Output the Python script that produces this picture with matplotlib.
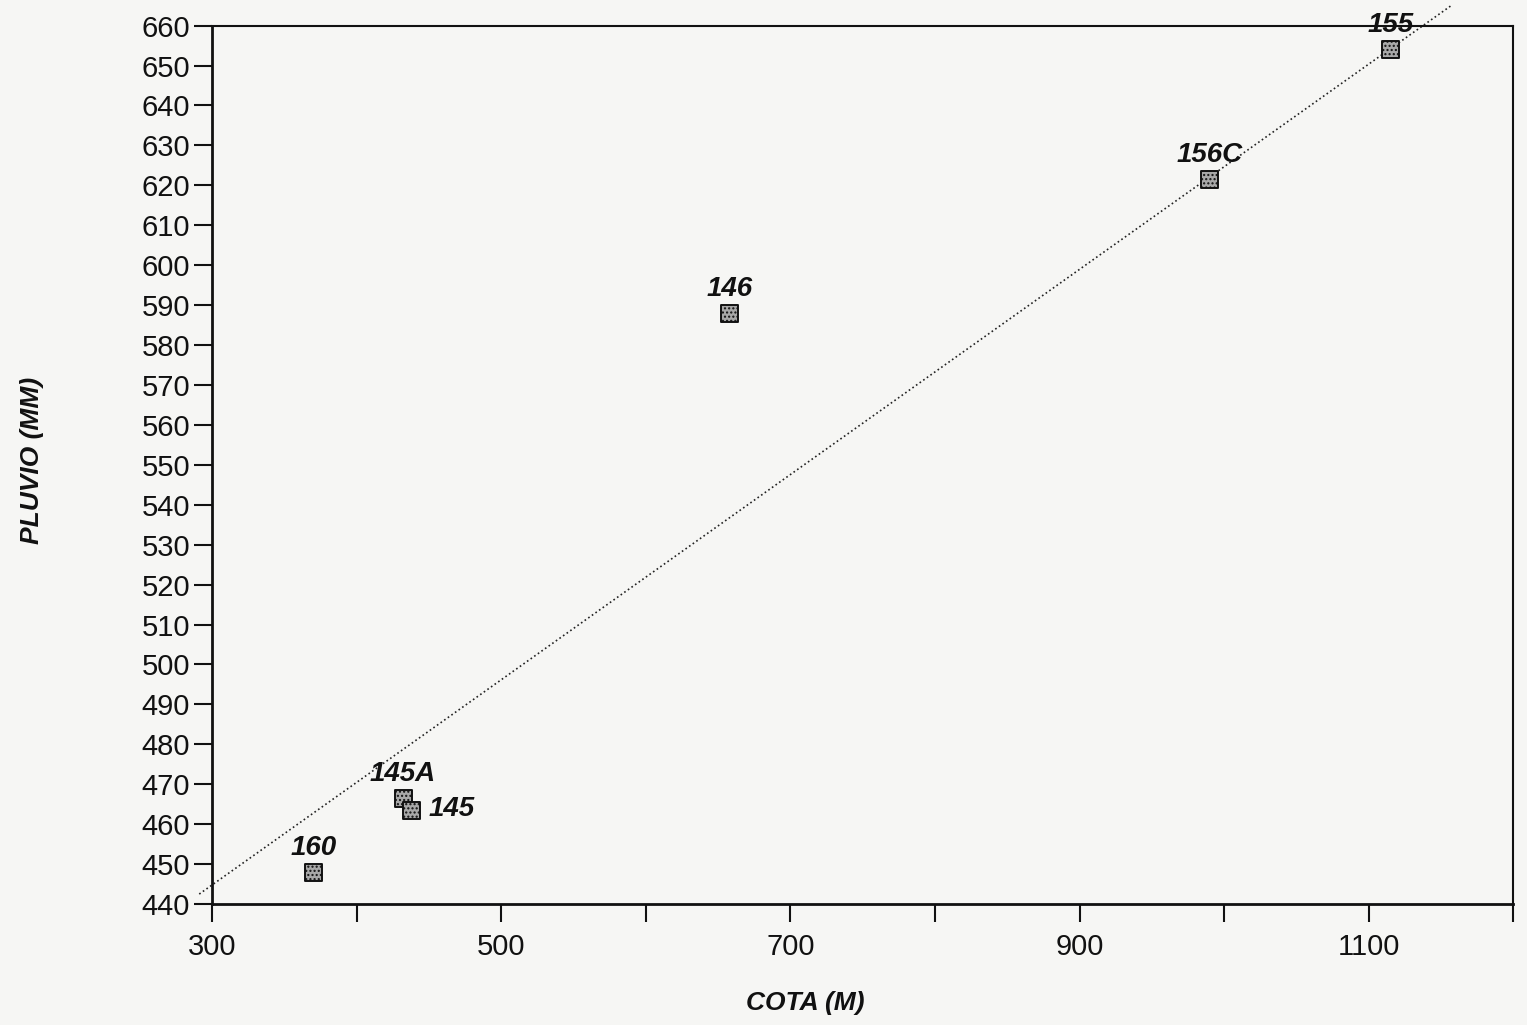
import numpy as np
import matplotlib
matplotlib.use("Agg")
from matplotlib import pyplot as plt

plt.rcParams['font.family'] = ['Liberation Sans', 'DejaVu Sans']

# stations: altitude (m) vs rainfall (mm)
estaciones = ['160', '145A', '145', '146', '156C', '155']
cota = [370, 432, 438, 658, 990, 1115]
pluvio = [448, 466.5, 463.5, 588, 621.5, 654]

# dotted trend line end points
linea_cota = [291, 1157]
linea_pluvio = [442.5, 665]

xticks = list(range(300, 1201, 100))
xtick_labels = ['300', '', '500', '', '700', '', '900', '', '1100', '']
yticks = list(range(440, 661, 10))

fig = plt.figure(figsize=(15.27, 10.25), dpi=100)
fig.patch.set_facecolor('#f6f6f4')
ax = fig.add_axes([0.139, 0.118, 0.852, 0.857])
ax.set_facecolor('#f6f6f4')

ax.plot(linea_cota, linea_pluvio, ls=':', color='#222222', lw=1.2, clip_on=False, zorder=2)
ax.scatter(cota, pluvio, marker='s', s=150, facecolor='#a8a8a8', edgecolor='#111111',
           linewidth=1.4, hatch='....', zorder=3, clip_on=False)

for name, x, y in zip(estaciones, cota, pluvio):
    if name == '145':
        ax.annotate(name, (x, y), xytext=(12, 1), textcoords='offset points',
                    ha='left', va='center', fontsize=20, fontweight='bold',
                    fontstyle='italic', color='#111111', zorder=4)
    else:
        ax.annotate(name, (x, y), xytext=(0, 8), textcoords='offset points',
                    ha='center', va='bottom', fontsize=20, fontweight='bold',
                    fontstyle='italic', color='#111111', zorder=4)

ax.set_xlim(300, 1200)
ax.set_ylim(440, 660)
ax.set_xticks(xticks)
ax.set_xticklabels(xtick_labels)
ax.set_yticks(yticks)
ax.tick_params(axis='both', direction='out', length=13, width=1.5, colors='#111111',
               labelsize=21)
ax.tick_params(axis='y', pad=3)
ax.tick_params(axis='x', pad=8)

for side in ['left', 'bottom', 'top', 'right']:
    ax.spines[side].set_color('#111111')
ax.spines['left'].set_linewidth(2)
ax.spines['bottom'].set_linewidth(2)
ax.spines['top'].set_linewidth(1.5)
ax.spines['right'].set_linewidth(1.5)

fig.text(805 / 1527, 1 - 1003 / 1025, 'COTA (M)', ha='center', va='center',
         fontsize=19, fontweight='bold', fontstyle='italic', color='#111111')
fig.text(32 / 1527, 1 - 460 / 1025, 'PLUVIO (MM)', ha='center', va='center', rotation=90,
         fontsize=19, fontweight='bold', fontstyle='italic', color='#111111')

fig.savefig('out.png', dpi=100, facecolor=fig.get_facecolor())
